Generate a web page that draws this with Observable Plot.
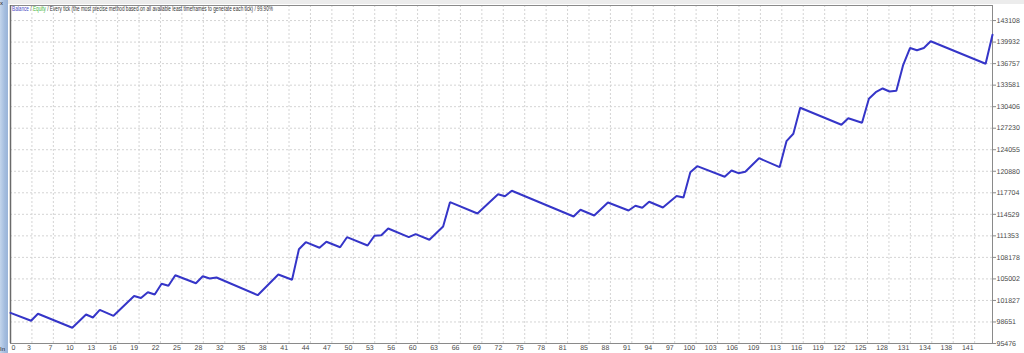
<!DOCTYPE html>
<html><head><meta charset="utf-8">
<script src="https://cdn.jsdelivr.net/npm/d3@7"></script>
<script src="https://cdn.jsdelivr.net/npm/@observablehq/plot@0.6"></script>
<style>
html,body{margin:0;padding:0;background:#fff;}
#wrap{position:relative;width:1024px;height:353px;overflow:hidden;font-family:"Liberation Sans",Arial,sans-serif;}
#chart{position:absolute;left:0;top:0;}
#chart text{text-rendering:geometricPrecision;}
#topbar{position:absolute;left:0;top:0;width:1024px;height:4px;background:#ececec;}
#side{position:absolute;left:0;top:0;width:8px;height:353px;background:linear-gradient(to right,#c3d5ec,#a3bcde 60%,#9ab4d8);}
#title{position:absolute;left:12px;top:5px;font-size:7px;line-height:8px;white-space:nowrap;color:#333;transform-origin:0 0;}
#xmark{position:absolute;left:0;top:0;font-size:6px;line-height:6px;color:#222;}
#inmark{position:absolute;left:0;top:346px;font-size:6px;line-height:7px;color:#222;}
</style></head><body>
<div id="wrap">
  <div id="chart"></div>
  <div id="topbar"></div>
  <div id="side"></div>
  <div id="xmark">x</div>
  <div id="inmark">In</div>
  <div id="title"><span style="color:#4b4bc4">Balance</span> / <span style="color:#3cb43c">Equity</span> / Every tick (the most precise method based on all available least timeframes to generate each tick) / 99.90%</div>
</div>
<script>
// Trade index of each visible vertex of the balance curve
const trades = [0, 3, 4, 9, 11, 12, 13, 15, 18, 19, 20, 21, 22, 23, 24, 27, 28, 29, 30, 36, 39, 41, 42, 43, 45, 46, 48, 49, 52, 53, 54, 55, 58, 59, 61, 63, 64, 68, 71, 72, 73, 82, 83, 85, 87, 90, 91, 92, 93, 95, 97, 98, 99, 100, 104, 105, 106, 107, 109, 112, 113, 114, 115, 121, 122, 124, 125, 126, 127, 128, 129, 130, 131, 132, 133, 134, 142, 143];
// Balance after that trade
const balance = [100000, 98824, 99857, 97792, 99754, 99311, 100447, 99562, 102482, 102187, 103043, 102704, 104282, 103987, 105550, 104370, 105403, 105064, 105211, 102600, 105654, 104872, 109385, 110418, 109592, 110477, 109680, 111155, 109931, 111362, 111450, 112439, 111155, 111598, 110772, 112734, 116318, 114651, 117498, 117203, 117999, 114209, 115197, 114356, 116274, 115094, 115787, 115492, 116377, 115536, 117232, 117011, 120743, 121628, 120064, 120994, 120595, 120802, 122808, 121480, 125315, 126407, 130242, 127734, 128708, 128029, 131569, 132543, 133089, 132646, 132749, 136584, 139062, 138738, 139062, 140051, 136732, 141009];
// X-axis tick labels (evenly spaced grid)
const xTickLabels = [0, 3, 7, 10, 13, 16, 19, 22, 25, 28, 32, 35, 38, 41, 44, 47, 50, 53, 56, 60, 63, 66, 69, 72, 75, 78, 81, 85, 88, 91, 94, 97, 100, 103, 106, 109, 113, 116, 119, 122, 125, 128, 131, 134, 138, 141];
// Y-axis tick values
const yTicks = [95476, 98651, 101827, 105002, 108178, 111353, 114529, 117704, 120880, 124055, 127230, 130406, 133581, 136757, 139932, 143108];

const data = trades.map((t, i) => ({t, v: balance[i]}));
const xStep = 3.12;
const xTickPos = xTickLabels.map((_, k) => k * xStep);
const labelAt = new Map(xTickPos.map((p, k) => [p, String(xTickLabels[k])]));
const gridStyle = {stroke: "#d4d4d4", strokeOpacity: 1, strokeDasharray: "2,2"};

const chart = Plot.plot({
  width: 1024,
  height: 353,
  marginLeft: 10,
  marginRight: 32,
  marginTop: 5,
  marginBottom: 10,
  style: {background: "transparent", fontFamily: "'Liberation Sans', Arial, sans-serif"},
  x: {domain: [0, 143], axis: null, label: null},
  y: {domain: [95476, 145328], axis: null, label: null},
  marks: [
    Plot.gridX(xTickPos.slice(1), gridStyle),
    Plot.gridY(yTicks.slice(1), gridStyle),
    Plot.frame({stroke: "#8a8a8a"}),
    Plot.ruleX([0], {stroke: "#6a6a6a", strokeWidth: 1.5}),
    Plot.axisY(yTicks, {anchor: "right", label: null, tickSize: 3, tickPadding: 1, fontSize: 7, fill: "#4a4a4a", stroke: "#8a8a8a", tickFormat: d => String(d)}),
    Plot.axisX(xTickPos.slice(0, 1), {anchor: "bottom", label: null, tickSize: 0, tickPadding: 2, fontSize: 7, fill: "#4a4a4a", textAnchor: "start", dx: 1, tickFormat: d => labelAt.get(d)}),
    Plot.axisX(xTickPos.slice(1), {anchor: "bottom", label: null, tickSize: 0, tickPadding: 2, fontSize: 7, fill: "#4a4a4a", textAnchor: "end", dx: -1, tickFormat: d => labelAt.get(d)}),
    Plot.line(data, {x: "t", y: "v", stroke: "#3535c8", strokeWidth: 2, strokeLinejoin: "miter"})
  ]
});
document.getElementById("chart").appendChild(chart);

const title = document.getElementById("title");
const w = title.getBoundingClientRect().width;
if (w > 0) title.style.transform = `scaleX(${261 / w})`;
</script>
</body></html>
